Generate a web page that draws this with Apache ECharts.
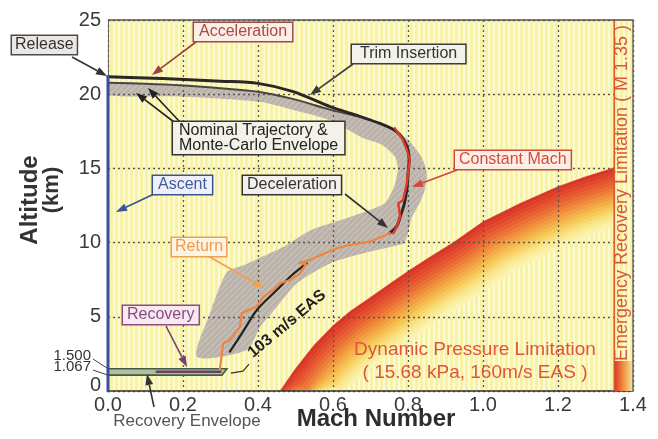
<!DOCTYPE html>
<html>
<head>
<meta charset="utf-8">
<script src="https://cdn.jsdelivr.net/npm/echarts@6/dist/echarts.min.js"></script>
<style>
  html, body { margin: 0; padding: 0; background: #ffffff; }
  #chart { width: 658px; height: 439px; }
</style>
</head>
<body>
<div id="chart"></div>
<script>
// ---------- axes ----------
const machRange = [0, 1.4];
const machStep = 0.2;
const altitudeRange = [0, 25];
const altitudeStep = 5;

// ---------- trajectories, [Mach, altitude km] ----------
const releaseAltitude = 21.17;
const ascentLine = [[0, 0], [0, releaseAltitude]];

const nominalTrajectory = [
  [0, 21.17], [0.1, 21.1], [0.19, 21.0], [0.3, 20.88], [0.4, 20.73], [0.494, 20.17],
  [0.592, 19.16], [0.66, 18.6], [0.725, 18.03], [0.77, 17.47], [0.795, 16.6],
  [0.803, 15.6], [0.8, 14.6], [0.797, 13.6], [0.79, 12.6], [0.78, 11.8],
  [0.77, 11.1], [0.752, 10.65]
];
const nominalLower = [
  [0, 20.77], [0.1, 20.7], [0.19, 20.6], [0.3, 20.4], [0.4, 20.17], [0.49, 19.7],
  [0.592, 18.96], [0.66, 18.55]
];
const constantMach = [
  [0.765, 17.7], [0.785, 17.0], [0.797, 16.24], [0.805, 15.57], [0.801, 14.89],
  [0.797, 14.0], [0.79, 13.2], [0.787, 12.87], [0.774, 12.65], [0.779, 11.75],
  [0.77, 11.07], [0.761, 10.63]
];
const returnPath = [
  [0.298, 1.45], [0.303, 2.4], [0.307, 3.21], [0.325, 3.44], [0.352, 4.33],
  [0.357, 5.24], [0.374, 5.46], [0.397, 5.68], [0.414, 6.35], [0.441, 6.81],
  [0.459, 7.26], [0.485, 7.48], [0.512, 7.93], [0.528, 8.55], [0.51, 8.62],
  [0.535, 8.8], [0.557, 9.05], [0.61, 9.62], [0.645, 9.84], [0.699, 10.06],
  [0.752, 10.63]
];
const eas103Line = [
  [0.325, 2.65], [0.36, 4.0], [0.397, 5.46], [0.45, 6.8], [0.49, 7.8], [0.53, 8.6]
];

// ---------- recovery envelope ----------
const recoveryEnvelopeAlt = [1.067, 1.5];        // bottom, top
const recoveryEnvelopeMachEnd = [0.304, 0.317];  // right end at bottom, top
const recoveryNominal = [[0.13, 1.3], [0.3, 1.3]];

// ---------- Monte-Carlo envelope ----------
const envelopeOuter = [
  [0, 20.77], [0.19, 20.6], [0.4, 20.17], [0.49, 19.7], [0.592, 18.96], [0.66, 18.5],
  [0.725, 18.0], [0.77, 17.5], [0.805, 16.8], [0.835, 15.8], [0.85, 14.7],
  [0.845, 13.6], [0.83, 12.6], [0.81, 11.7], [0.8, 10.6], [0.787, 9.95],
  [0.752, 9.7], [0.681, 9.28], [0.592, 8.6], [0.503, 7.25], [0.45, 5.66],
  [0.405, 4.3], [0.37, 2.76]
];
const envelopeInner = [
  [0.237, 2.3], [0.272, 5.22], [0.317, 8.0], [0.361, 8.47], [0.467, 9.7],
  [0.539, 10.82], [0.645, 11.73], [0.735, 12.6], [0.76, 13.6], [0.773, 14.9],
  [0.765, 15.8], [0.73, 16.6], [0.68, 17.05], [0.59, 18.26], [0.5, 18.9],
  [0.4, 19.5], [0.19, 19.85], [0, 19.95]
];

// ---------- limits ----------
const dynamicPressureLimit = [
  [0.459, 0], [0.5, 1.5], [0.55, 3.1], [0.6, 4.4], [0.645, 5.35], [0.69, 6.13],
  [0.75, 7.2], [0.805, 8.15], [0.86, 9.05], [0.921, 10.0], [1.0, 11.4],
  [1.1, 12.65], [1.2, 13.77], [1.27, 14.4], [1.35, 15.05]
];
const emergencyMach = 1.35;

// ---------- styling helpers ----------
const FONT = '"Liberation Sans", Arial, Helvetica, sans-serif';

function stripeCanvas(c1, c2, w1, w2) {
  const cv = document.createElement('canvas');
  cv.width = w1 + w2; cv.height = 8;
  const ctx = cv.getContext('2d');
  ctx.fillStyle = c1; ctx.fillRect(0, 0, w1, 8);
  ctx.fillStyle = c2; ctx.fillRect(w1, 0, w2, 8);
  return cv;
}
function hatchCanvas() {
  const cv = document.createElement('canvas');
  cv.width = 6; cv.height = 6;
  const ctx = cv.getContext('2d');
  ctx.fillStyle = '#bbb3aa'; ctx.fillRect(0, 0, 6, 6);
  ctx.strokeStyle = '#cbc4bb'; ctx.lineWidth = 1.2;
  ctx.beginPath(); ctx.moveTo(-1, 7); ctx.lineTo(7, -1); ctx.stroke();
  return cv;
}
const stripeFill = { image: stripeCanvas('#f8f2a4', '#fdfad8', 3, 2), repeat: 'repeat' };
const hatchFill = { image: hatchCanvas(), repeat: 'repeat' };

const heatStops = [
  [0, [217, 52, 38]], [0.22, [232, 88, 48]], [0.45, [240, 145, 58]],
  [0.68, [246, 200, 86]], [0.85, [249, 231, 140]], [1, [251, 243, 178]]
];
function heatColor(t) {
  for (let i = 1; i < heatStops.length; i++) {
    if (t <= heatStops[i][0]) {
      const a = heatStops[i - 1], b = heatStops[i];
      const f = (t - a[0]) / (b[0] - a[0]);
      const c = a[1].map((v, k) => Math.round(v + (b[1][k] - v) * f));
      return 'rgb(' + c.join(',') + ')';
    }
  }
  return 'rgb(251,243,178)';
}

// ---------- custom renderers ----------
function renderPlotBackground(params, api) {
  const cs = params.coordSys;
  return { type: 'rect', shape: { x: cs.x, y: cs.y, width: cs.width, height: cs.height },
           style: { fill: stripeFill } };
}

// Limit boundary drawn as a run of narrow strips fading from red into the plot colour
function renderPressureLimit(params, api) {
  const cs = params.coordSys;
  const bottom = cs.y + cs.height, right = cs.x + cs.width;
  const pts = dynamicPressureLimit.map(p => api.coord(p));
  const steps = 17, step = 3.4;
  function edge(k) {
    const dx = k * step * 0.5, dy = k * step * 0.87;
    const e = pts.map(p => [Math.min(p[0] + dx, right), Math.min(p[1] + dy, bottom)]);
    e.unshift([e[0][0], bottom]);
    e.push([right, e[e.length - 1][1]]);
    return e;
  }
  const children = [];
  for (let k = 0; k < steps; k++) {
    const a = edge(k), b = edge(k + 1).reverse();
    children.push({
      type: 'polygon', shape: { points: a.concat(b) },
      style: { fill: heatColor(k / (steps - 1)), stroke: heatColor(k / (steps - 1)), lineWidth: 0.6 }
    });
  }
  const inner = edge(steps);
  inner.push([right, bottom]);
  children.push({ type: 'polygon', shape: { points: inner }, style: { fill: stripeFill } });
  return { type: 'group', children };
}

function renderEmergencyStrip(params, api) {
  const tl = api.coord([emergencyMach, altitudeRange[1]]);
  const br = api.coord([machRange[1], altitudeRange[0]]);
  const w = br[0] - tl[0];
  return {
    type: 'group', children: [
      { type: 'rect', shape: { x: tl[0], y: tl[1], width: w, height: br[1] - tl[1] },
        style: { fill: stripeFill } },
      { type: 'rect', shape: { x: tl[0], y: br[1] - 30, width: w, height: 30 },
        style: { fill: new echarts.graphic.LinearGradient(0, 0, 1, 0, [
          { offset: 0, color: '#d93426' }, { offset: 0.45, color: '#ef8a3c' },
          { offset: 1, color: '#f9e89a' }]) } }
    ]
  };
}

function renderEnvelope(params, api) {
  const pts = envelopeOuter.concat(envelopeInner).map(p => api.coord(p));
  return { type: 'polygon', shape: { points: pts, smooth: 0.25 },
           style: { fill: hatchFill } };
}

function renderRecoveryBand(params, api) {
  const pts = [
    api.coord([0, recoveryEnvelopeAlt[1]]),
    api.coord([recoveryEnvelopeMachEnd[1], recoveryEnvelopeAlt[1]]),
    api.coord([recoveryEnvelopeMachEnd[0], recoveryEnvelopeAlt[0]]),
    api.coord([0, recoveryEnvelopeAlt[0]])
  ];
  return { type: 'polygon', shape: { points: pts },
           style: { fill: '#b7bea0', stroke: '#3f5f47', lineWidth: 1.6 } };
}

function lineSeries(data, color, width, z, smooth) {
  return {
    type: 'line', data, z, smooth: smooth || 0, showSymbol: false, symbol: 'none',
    lineStyle: { color, width, cap: 'round', join: 'round' }, silent: true
  };
}

const chart = echarts.init(document.getElementById('chart'), null, { renderer: 'canvas' });

const option = {
  animation: false,
  grid: { left: 108, right: 25, top: 20, bottom: 48, containLabel: false },
  xAxis: {
    type: 'value', min: machRange[0], max: machRange[1], interval: machStep, z: 2,
    axisLine: { show: true, onZero: false, lineStyle: { color: '#333', width: 1.5 } },
    axisTick: { show: false },
    axisLabel: { margin: 4, fontSize: 20, color: '#3a3a3a', fontFamily: FONT,
                 formatter: v => v.toFixed(1) },
    splitLine: { show: true, lineStyle: { color: '#555', width: 1.3, type: [2, 3] } }
  },
  yAxis: {
    type: 'value', min: altitudeRange[0], max: altitudeRange[1], interval: altitudeStep, z: 2,
    axisLine: { show: true, lineStyle: { color: '#666', width: 1 } },
    axisTick: { show: false },
    axisLabel: {
      margin: 7, fontSize: 20, color: '#3a3a3a', fontFamily: FONT,
      formatter: v => v === 0 ? '{z|0}' : String(v),
      rich: { z: { fontSize: 20, color: '#3a3a3a', fontFamily: FONT, padding: [0, 0, 12, 0] } }
    },
    splitLine: { show: true, lineStyle: { color: '#555', width: 1.3, type: [2, 3] } }
  },
  series: [
    { type: 'custom', z: 0, clip: true, silent: true, data: [[0, 0]], renderItem: renderPlotBackground },
    { type: 'custom', z: 1, clip: true, silent: true, data: [[0, 0]], renderItem: renderPressureLimit },
    { type: 'custom', z: 1, clip: true, silent: true, data: [[0, 0]], renderItem: renderEnvelope },
    { type: 'custom', z: 3, clip: true, silent: true, data: [[0, 0]], renderItem: renderEmergencyStrip },
    { type: 'custom', z: 3, clip: true, silent: true, data: [[0, 0]], renderItem: renderRecoveryBand },
    lineSeries([[emergencyMach, altitudeRange[0]], [emergencyMach, altitudeRange[1]]], '#d8553a', 1.6, 4),
    lineSeries(eas103Line, '#222', 2.2, 5, 0.3),
    lineSeries(nominalLower, '#4a4444', 2, 5, 0.3),
    lineSeries(nominalTrajectory, '#2c2626', 3, 6, 0.3),
    lineSeries(constantMach, '#e23a2a', 2.4, 7),
    lineSeries(returnPath, '#f0843c', 2.2, 7),
    lineSeries(recoveryNominal, '#6a3f66', 2.6, 7),
    lineSeries(ascentLine, '#3a4f9c', 3, 7)
  ]
};
chart.setOption(option);

// ---------- annotations ----------
function arrow(x1, y1, x2, y2, color, width, head) {
  width = width || 1.6; head = head || 11;
  const a = Math.atan2(y2 - y1, x2 - x1);
  const bx = x2 - head * Math.cos(a), by = y2 - head * Math.sin(a);
  const px = Math.sin(a) * head * 0.36, py = -Math.cos(a) * head * 0.36;
  return [
    { type: 'line', z: 20, silent: true, shape: { x1, y1, x2: bx, y2: by },
      style: { stroke: color, lineWidth: width } },
    { type: 'polygon', z: 20, silent: true,
      shape: { points: [[x2, y2], [bx + px, by + py], [bx - px, by - py]] },
      style: { fill: color } }
  ];
}
function boxLabel(x, y, text, color, border, bg, padX, lineHeight) {
  return {
    type: 'text', x, y, z: 21, silent: true,
    style: {
      text, font: '16px ' + FONT, fill: color, lineHeight: lineHeight || 16,
      align: 'left', verticalAlign: 'top', textAlign: 'left', textVerticalAlign: 'top',
      backgroundColor: bg, borderColor: border, borderWidth: 1.5,
      padding: [1, padX == null ? 5 : padX]
    }
  };
}
function plainText(x, y, text, font, color, rotation) {
  return {
    type: 'text', x, y, z: 21, rotation: rotation || 0, silent: true,
    style: { text, font, fill: color, align: 'center', verticalAlign: 'middle',
             textAlign: 'center', textVerticalAlign: 'middle' }
  };
}

const gridLeft = chart.convertToPixel({ gridIndex: 0 }, [machRange[0], altitudeRange[1]]);
const gridRight = chart.convertToPixel({ gridIndex: 0 }, [machRange[1], altitudeRange[0]]);
const bandTopY = chart.convertToPixel({ gridIndex: 0 }, [0, recoveryEnvelopeAlt[1]])[1];
const bandBotY = chart.convertToPixel({ gridIndex: 0 }, [0, recoveryEnvelopeAlt[0]])[1];
const bandEnd = chart.convertToPixel({ gridIndex: 0 }, [recoveryEnvelopeMachEnd[1], recoveryEnvelopeAlt[0]]);

const graphics = [
  // top and right frame
  { type: 'polyline', z: 19, silent: true,
    shape: { points: [[gridLeft[0], gridLeft[1]], [gridRight[0], gridLeft[1]], [gridRight[0], gridRight[1]]] },
    style: { stroke: '#555', lineWidth: 1.3, fill: null } },

  // axis titles
  plainText(30, 200, 'Altitude', 'bold 24px ' + FONT, '#333', Math.PI / 2),
  plainText(52, 190, '(km)', 'bold 22px ' + FONT, '#333', Math.PI / 2),
  plainText(376, 419, 'Mach Number', 'bold 24px ' + FONT, '#2e2e2e'),

  // recovery envelope altitude marks
  { type: 'text', x: 91, y: 356, z: 21, silent: true,
    style: { text: recoveryEnvelopeAlt[1].toFixed(3), font: '15px ' + FONT, fill: '#333',
             align: 'right', verticalAlign: 'middle', textAlign: 'right', textVerticalAlign: 'middle' } },
  { type: 'text', x: 91, y: 367, z: 21, silent: true,
    style: { text: recoveryEnvelopeAlt[0].toFixed(3), font: '15px ' + FONT, fill: '#333',
             align: 'right', verticalAlign: 'middle', textAlign: 'right', textVerticalAlign: 'middle' } },
  { type: 'line', z: 20, silent: true, shape: { x1: 93, y1: 359, x2: gridLeft[0], y2: bandTopY },
    style: { stroke: '#444', lineWidth: 1 } },
  { type: 'line', z: 20, silent: true, shape: { x1: 93, y1: 370, x2: gridLeft[0], y2: bandBotY },
    style: { stroke: '#444', lineWidth: 1 } },

  // limit labels
  plainText(475, 350, 'Dynamic Pressure Limitation', '19px ' + FONT, '#e0553a'),
  plainText(475, 373, '( 15.68 kPa, 160m/s EAS )', '19px ' + FONT, '#e0553a'),
  plainText(622, 193, 'Emergency Recovery Limitation ( M 1.35 )', '18px ' + FONT, '#d9563a', Math.PI / 2),

  // other texts
  plainText(187, 421, 'Recovery Envelope', '17px ' + FONT, '#555'),
  plainText(287, 324, '103 m/s EAS', 'bold 16px ' + FONT, '#1e1e1e', 40 * Math.PI / 180),
  { type: 'polyline', z: 20, silent: true,
    shape: { points: [[bandEnd[0] + 4, bandEnd[1] - 2], [243, bandEnd[1] - 4], [249, bandEnd[1] - 11]] },
    style: { stroke: '#333', lineWidth: 1.2, fill: null } },

  // boxed callouts
  boxLabel(12, 36, 'Release', '#333', '#4a4a4a', '#ebe7e4', 3),
  boxLabel(194, 23, 'Acceleration', '#a84a46', '#9c4a48', '#fbeee6', 5),
  boxLabel(352, 45, 'Trim Insertion', '#333', '#3c3c3c', '#f2f1ea', 8),
  boxLabel(173, 122, 'Nominal Trajectory &\nMonte-Carlo Envelope', '#222', '#333', '#f3f1e8', 6, 15),
  boxLabel(153, 176, 'Ascent', '#3d5ba5', '#3a5296', '#eef0f5', 5),
  boxLabel(243, 176, 'Deceleration', '#333', '#333', '#f3efec', 4),
  boxLabel(455, 151, 'Constant Mach', '#d44c3c', '#d04a3a', '#fdefe7', 4),
  boxLabel(172, 238, 'Return', '#f19a45', '#f0a050', '#fdf4e4', 3),
  boxLabel(123, 306, 'Recovery', '#8a4a82', '#8c4c80', '#f7e9f0', 4)
].concat(
  arrow(72, 57, 107, 76, '#333'),
  arrow(196, 42, 152, 75, '#9c4040'),
  arrow(353, 64, 310, 95, '#3a3a3a'),
  arrow(174, 122, 136, 93, '#222'),
  arrow(180, 122, 148, 88, '#222'),
  arrow(154, 194, 116, 212, '#3a5296'),
  arrow(345, 194, 388, 228, '#333'),
  arrow(457, 170, 412, 187, '#d8453a'),
  arrow(208, 256, 264, 288, '#f0a050'),
  arrow(166, 326, 187, 367, '#7a3f6f'),
  arrow(154, 407, 147, 374, '#333')
);

chart.setOption({ graphic: graphics });
</script>
</body>
</html>
